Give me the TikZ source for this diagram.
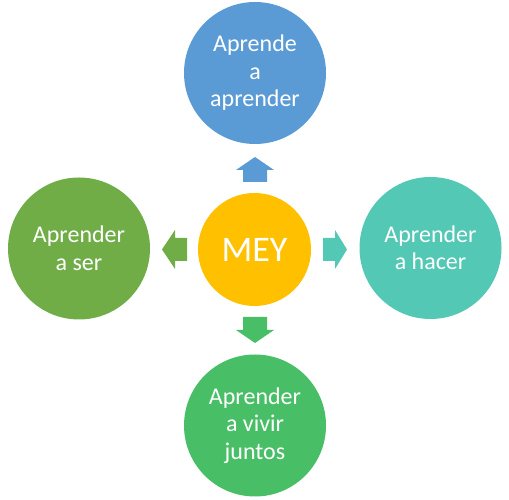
\documentclass[tikz,border=0pt]{standalone}
\usepackage{fontspec}
\setmainfont{Carlito}
\begin{document}
\begin{tikzpicture}[x=1pt,y=1pt,
  bubble/.style={circle,minimum size=142pt,inner sep=0pt,text=white,align=center,
    font=\fontsize{24}{27.5}\selectfont},
  hub/.style={circle,minimum size=113pt,inner sep=0pt,text=white,fill=meyYellow,
    font=\fontsize{36}{40}\selectfont},
  fatarrow/.style={inner sep=0pt,outer sep=0pt}]
\definecolor{meyYellow}{HTML}{FFC000}
\definecolor{meyBlue}{HTML}{5B9BD5}
\definecolor{meyOlive}{HTML}{70AD47}
\definecolor{meyTeal}{HTML}{52C8B5}
\definecolor{meyGreen}{HTML}{48BF66}
\useasboundingbox (0,0) rectangle (509,500);
\node[hub] (c) at (254.5,250.5) {MEY};
\node[bubble,fill=meyBlue] (t) at (255,427) {Aprende\\a\\aprender};
\node[bubble,fill=meyOlive] (l) at (79,251.5) {Aprender\\a ser};
\node[bubble,fill=meyTeal] (r) at (430.5,252) {Aprender\\a hacer};
\node[bubble,fill=meyGreen] (b) at (255,74.5) {Aprender\\a vivir\\juntos};
% up arrow
\fill[meyBlue] (243,318) -- (243,330) -- (236,330) -- (255,343) -- (274,330) -- (267,330) -- (267,318) -- cycle;
% down arrow
\fill[meyGreen] (243,183) -- (243,170) -- (236,170) -- (255,157) -- (274,170) -- (267,170) -- (267,183) -- cycle;
% left arrow
\fill[meyOlive] (187,262) -- (175,262) -- (175,270) -- (162,250.5) -- (175,231) -- (175,239) -- (187,239) -- cycle;
% right arrow
\fill[meyTeal] (323,262) -- (335,262) -- (335,270) -- (347,250.5) -- (335,231) -- (335,239) -- (323,239) -- cycle;
\end{tikzpicture}
\end{document}
